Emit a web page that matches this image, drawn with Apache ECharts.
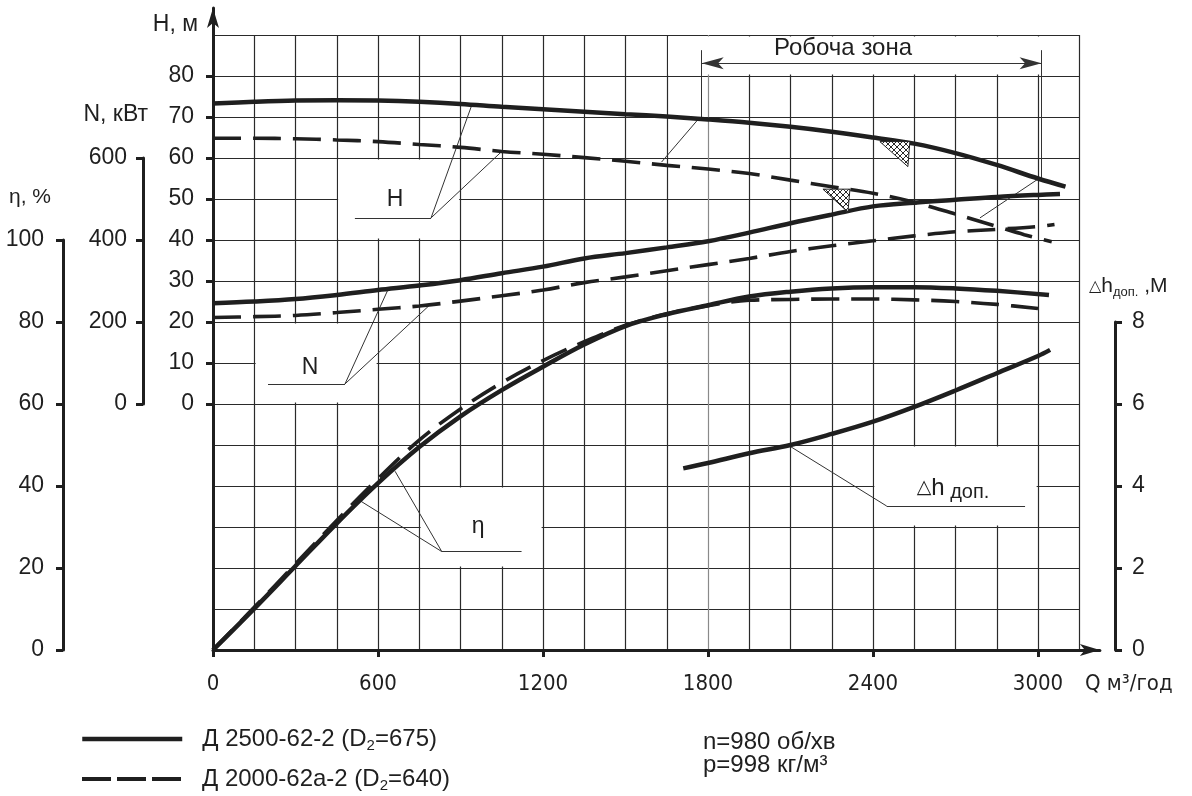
<!DOCTYPE html>
<html><head><meta charset="utf-8">
<script src="https://cdn.jsdelivr.net/npm/echarts@6/dist/echarts.min.js"></script>
<style>html,body{margin:0;padding:0;background:#fff}#c{width:1192px;height:796px}</style>
</head><body><div id="c"></div>
<script>
// ---------- data ----------
const P1 = 'Д 2500-62-2 (D2=675)';
const P2 = 'Д 2000-62а-2 (D2=640)';

// Head H, m
const qH1 = [0,150,300,450,600,750,900,1050,1200,1350,1500,1650,1800,1950,2100,2250,2400,2550,2700,2850,3000,3100];
const h1  = [73.3,73.7,74.0,74.1,74.0,73.7,73.2,72.5,71.9,71.3,70.7,70.1,69.4,68.6,67.6,66.4,65.0,63.5,61.2,58.3,55.0,53.0];
const qH2 = [0,150,300,450,600,750,900,1050,1200,1350,1500,1650,1800,1950,2100,2250,2400,2550,2700,2850,2950,3050];
const h2  = [64.8,64.8,64.7,64.4,64.0,63.3,62.6,61.6,60.9,60.1,59.2,58.2,57.3,56.2,54.6,53.0,51.4,49.2,46.3,43.3,41.3,39.6];

// Power N, kW
const qN1 = [0,150,300,450,600,750,900,1050,1200,1350,1500,1650,1800,1950,2100,2250,2400,2550,2700,2850,3000,3080];
const n1  = [246,250,256,266,278,289,302,319,335,355,368,382,397,418,441,462,482,491,498,505,510,512];
const qN2 = [0,150,300,450,600,750,900,1050,1200,1350,1500,1650,1800,1950,2100,2250,2400,2550,2700,2850,3000,3060];
const n2  = [211,213,216,223,231,239,251,264,278,296,310,325,340,355,372,386,398,410,420,426,433,438];

// Efficiency η, %
const qE1 = [0,150,300,450,600,750,900,1050,1200,1350,1500,1650,1800,1950,2100,2250,2400,2550,2700,2850,3040];
const e1  = [0,10.1,20.5,30.9,40.7,49.5,57.0,63.4,69.1,74.5,79.0,81.9,84.1,86.2,87.4,88.2,88.5,88.5,88.2,87.6,86.6];
const qE2 = [0,150,300,450,600,750,900,1050,1200,1350,1500,1650,1800,1950,2100,2250,2400,2550,2700,2850,3000];
const e2  = [0,10.4,21.0,31.6,41.8,51.2,58.8,65.2,70.6,75.2,79.2,82.0,84.0,85.3,85.5,85.6,85.6,85.4,85.0,84.3,83.3];

// Permissible cavitation reserve Δh, m
const qD = [1710,1800,1950,2100,2250,2400,2550,2700,2850,3000,3044];
const dh = [4.43,4.56,4.80,5.00,5.27,5.57,5.93,6.33,6.75,7.17,7.32];

// tick labels
const qTicks = [0,600,1200,1800,2400,3000];
const hTicks = [0,10,20,30,40,50,60,70,80];

// annotations (in Q / H-scale units of the main plot)
const blankCells = [[[450,40],[900,60]],[[150,0],[600,20]],[[750,-40],[1200,-20]],[[2400,-30],[3000,-10]],[[1650,80],[3150,90]]];
const leaders = [
  [[516,45.4],[793,45.4]],[[793,45.4],[941,72.9]],[[793,45.4],[1050,61.6]],
  [[200,4.9],[480,4.9]],[[480,4.9],[637,28.0]],[[480,4.9],[789,24.2]],
  [[832,-36],[1122,-36]],[[832,-36],[535,-23.6]],[[832,-36],[662,-16.4]],
  [[2450,-24.9],[2953,-24.9]],[[2450,-24.9],[2098,-10.3]],
  [[1777,86.3],[1777,69.6]],[[3013,86.3],[3013,54.7]],
  [[1765,69.5],[1631,59.0]],[[3001,54.9],[2789,45.4]]
];
const zoneArrow = [[1777,83.1],[3013,83.1]];
const labelPts = [
  {name:'H', coord:[662,49.8]},
  {name:'N', coord:[353,8.8]},
  {name:'η', coord:[964,-30.0]},
  {name:'dh', coord:[2691,-20.5]},
  {name:'Робоча зона', coord:[2291,86.7]}
];
const hatchAnchors = [[2425,64.0],[2218,52.4]];

// ---------- layout ----------
const PXQ = 0.275, PXH = 4.1, X0 = 213, Y0 = 650;
const INK = '#1f1f1f';
const FONT = "'Liberation Sans', Arial, sans-serif";
const NARROW = "'Liberation Sans Narrow', 'DejaVu Sans Condensed', 'Liberation Sans', sans-serif";
const TRI_SHAPES = [[[0,0],[30,0],[28,25]], [[0,0],[27,0],[25,23]]];

const pts = (xs, ys) => xs.map((x, i) => [x, ys[i]]);

function hatchPattern() {
  const n = 6;
  const c = document.createElement('canvas');
  c.width = n; c.height = n;
  const g = c.getContext('2d');
  g.fillStyle = '#fff'; g.fillRect(0, 0, n, n);
  g.strokeStyle = '#2a2a2a'; g.lineWidth = 1;
  g.beginPath(); g.moveTo(0, 0); g.lineTo(n, n); g.moveTo(n, 0); g.lineTo(0, n); g.stroke();
  return c;
}
const HATCH = {image: hatchPattern(), repeat: 'repeat'};

const xSplitColors = [];
for (let q = 0; q <= 3150; q += 150) xSplitColors.push(q === 1800 ? '#8a8a8a' : '#2a2a2a');

const hiddenX = i => ({gridIndex: i, type: 'value', min: 0, max: 1, show: false});
const dispAxisLine = {show: true, onZero: false, lineStyle: {color: INK, width: 3}};
const tickStyle = {show: true, length: 7, lineStyle: {color: INK, width: 3}};
const lblStyle = {color: INK, fontSize: 23, fontFamily: FONT};

const solid = {color: INK, width: 4.5};
const dashed = {color: INK, width: 3.6, type: [28, 12]};
const lineS = (name, y, data, ls, z) => ({
  name, type: 'line', xAxisIndex: 0, yAxisIndex: y, data, smooth: 0.35,
  symbol: 'none', showSymbol: false, lineStyle: ls, itemStyle: {color: INK}, z: z || 5, silent: true
});

const legendFmt = name => {
  const i = name.indexOf('D2');
  return '{g|}{t|' + name.slice(0, i + 1) + '}{s|2}{t|' + name.slice(i + 2) + '}';
};
const legendBox = (name, top, ls) => ({
  left: 80, top, padding: 0, itemWidth: 100, itemHeight: 14, selectedMode: false,
  formatter: legendFmt,
  data: [{name, itemStyle: {color: 'rgba(0,0,0,0)', borderWidth: 0, opacity: 0}, lineStyle: ls}],
  textStyle: {color: INK, fontSize: 24, fontFamily: FONT,
    rich: {g: {width: 15},
           t: {fontSize: 24, fontFamily: FONT, color: INK, lineHeight: 28},
           s: {fontSize: 15, fontFamily: FONT, color: INK, verticalAlign: 'bottom', lineHeight: 24}}}
});

const option = {
  animation: false,
  backgroundColor: '#fff',
  grid: [
    {left: X0, top: Y0 - 150 * PXH, width: 3150 * PXQ, height: 150 * PXH, containLabel: false, outerBoundsMode: 'none'},
    {left: X0, top: Y0 - 150 * PXH, width: 3225 * PXQ, height: 150 * PXH, containLabel: false, outerBoundsMode: 'none'},
    {left: X0, top: Y0 - 156.6 * PXH, width: 10, height: 156.6 * PXH, containLabel: false, outerBoundsMode: 'none'},
    {left: 143, top: Y0 - 120 * PXH, width: 10, height: 60 * PXH, containLabel: false, outerBoundsMode: 'none'},
    {left: 63, top: Y0 - 100 * PXH, width: 10, height: 100 * PXH, containLabel: false, outerBoundsMode: 'none'},
    {left: 1105, top: Y0 - 80 * PXH, width: 10, height: 80 * PXH, containLabel: false, outerBoundsMode: 'none'}
  ],
  xAxis: [
    {gridIndex: 0, type: 'value', min: 0, max: 3150, interval: 150,
     axisLine: {show: false}, axisTick: {show: false}, axisLabel: {show: false},
     splitLine: {show: true, lineStyle: {color: xSplitColors, width: 1.2}}},
    {gridIndex: 1, type: 'value', min: 0, max: 3225, interval: 600,
     axisLine: Object.assign({}, dispAxisLine, {symbol: ['none', 'arrow'], symbolSize: [9, 20]}),
     axisTick: Object.assign({}, tickStyle, {customValues: qTicks}),
     axisLabel: {customValues: qTicks, color: INK, fontSize: 22, fontFamily: NARROW, margin: 23,
                 formatter: v => String(v)},
     splitLine: {show: false}},
    hiddenX(2), hiddenX(3), hiddenX(4), hiddenX(5)
  ],
  yAxis: [
    {gridIndex: 0, type: 'value', min: -60, max: 90, interval: 10,
     axisLine: {show: false}, axisTick: {show: false}, axisLabel: {show: false},
     splitLine: {show: true, lineStyle: {color: '#2a2a2a', width: 1.2}}},
    {gridIndex: 0, type: 'value', min: -600, max: 900, show: false},
    {gridIndex: 0, type: 'value', min: 0, max: 150, show: false},
    {gridIndex: 0, type: 'value', min: 0, max: 15, show: false},
    {gridIndex: 1, type: 'value', min: 0, max: 1, show: false},
    {gridIndex: 2, type: 'value', min: -60, max: 96.6, interval: 10,
     axisLine: Object.assign({}, dispAxisLine, {symbol: ['none', 'arrow'], symbolSize: [9, 20]}),
     axisTick: Object.assign({}, tickStyle, {customValues: hTicks}),
     axisLabel: Object.assign({customValues: hTicks, margin: 19}, lblStyle),
     splitLine: {show: false}},
    {gridIndex: 3, type: 'value', min: 0, max: 600, interval: 200,
     axisLine: dispAxisLine, axisTick: tickStyle,
     axisLabel: Object.assign({margin: 16}, lblStyle), splitLine: {show: false}},
    {gridIndex: 4, type: 'value', min: 0, max: 100, interval: 20,
     axisLine: dispAxisLine, axisTick: tickStyle,
     axisLabel: Object.assign({margin: 19}, lblStyle), splitLine: {show: false}},
    {gridIndex: 5, type: 'value', position: 'right', min: 0, max: 8, interval: 2,
     axisLine: dispAxisLine, axisTick: tickStyle,
     axisLabel: Object.assign({margin: 17}, lblStyle), splitLine: {show: false}}
  ],
  legend: [
    legendBox(P1, 727, {color: INK, width: 4.5, type: 'solid'}),
    legendBox(P2, 767, {color: INK, width: 4, type: [29, 6]})
  ],
  series: [
    // white label cells
    {name: 'cells', type: 'line', xAxisIndex: 0, yAxisIndex: 0, data: [], z: 1, silent: true,
     markArea: {silent: true, itemStyle: {color: '#fff'},
       data: blankCells.map(b => [{coord: [b[0][0] + 5, b[0][1] + 0.35]}, {coord: [b[1][0] - 5, b[1][1] - 0.35]}])}},
    lineS(P1, 0, pts(qH1, h1), solid),
    lineS(P2, 0, pts(qH2, h2), dashed),
    lineS(P1, 1, pts(qN1, n1), solid),
    lineS(P2, 1, pts(qN2, n2), dashed),
    lineS(P1, 2, pts(qE1, e1), solid),
    lineS(P2, 2, pts(qE2, e2), dashed),
    lineS(P1, 3, pts(qD, dh), solid),
    // hatched marks on the H curves
    {name: 'hatch', type: 'custom', coordinateSystem: 'cartesian2d', xAxisIndex: 0, yAxisIndex: 0,
     data: hatchAnchors, z: 6, silent: true,
     renderItem: (params, api) => {
       const p = api.coord([api.value(0), api.value(1)]);
       const shp = TRI_SHAPES[params.dataIndex];
       return {type: 'polygon', shape: {points: shp.map(v => [p[0] + v[0], p[1] + v[1]])},
               style: {fill: HATCH, stroke: '#222', lineWidth: 1}};
     }},
    // leaders, working-zone bracket, labels
    {name: 'notes', type: 'line', xAxisIndex: 0, yAxisIndex: 0, data: [], z: 4, silent: true,
     markLine: {silent: true, symbol: ['none', 'none'], label: {show: false},
       lineStyle: {color: '#333', width: 1, type: 'solid'},
       data: leaders.map(s => [{coord: s[0]}, {coord: s[1]}]).concat([[
         {coord: zoneArrow[0], symbol: 'arrow', symbolSize: [9, 22]},
         {coord: zoneArrow[1], symbol: 'arrow', symbolSize: [9, 22]}
       ]])},
     markPoint: {silent: true,
       data: labelPts.map(p => ({
         name: p.name, coord: p.coord, symbol: 'circle', symbolSize: 1,
         itemStyle: {color: 'rgba(0,0,0,0)'},
         label: {show: true, position: 'inside', color: INK, fontFamily: FONT,
           fontSize: p.name === 'Робоча зона' ? 24 : 23,
           formatter: p.name === 'dh' ? '{d|△}{h|h}{s| доп.}' : '{b}',
           rich: {d: {fontSize: 19, color: INK, fontFamily: "'DejaVu Sans', sans-serif"},
                  h: {fontSize: 24, color: INK, fontFamily: FONT},
                  s: {fontSize: 20, color: INK, fontFamily: FONT, verticalAlign: 'bottom', lineHeight: 28}}}
       }))}}
  ],
  graphic: [
    {type: 'text', right: 1192 - 198, top: 13, style: {text: 'H, м', fontSize: 23, fontFamily: FONT, fill: INK}},
    {type: 'text', right: 1192 - 148, top: 103, style: {text: 'N, кВт', fontSize: 23, fontFamily: FONT, fill: INK}},
    {type: 'text', left: 9, top: 187, style: {text: 'η, %', fontSize: 21, fontFamily: FONT, fill: INK}},
    {type: 'text', left: 1089, top: 276, style: {
      text: '{d|△}{h|h}{s|доп.}{h| ,М}', fill: INK,
      rich: {d: {fontSize: 16, fontFamily: "'DejaVu Sans', sans-serif", fill: INK},
             h: {fontSize: 21, fontFamily: FONT, fill: INK},
             s: {fontSize: 13, fontFamily: FONT, fill: INK, verticalAlign: 'bottom', lineHeight: 24}}}},
    {type: 'text', left: 1085, top: 673, style: {text: 'Q м³/год', fontSize: 22, fontFamily: NARROW, fill: INK}},
    {type: 'text', left: 703, top: 730, style: {text: 'n=980 об/хв\np=998 кг/м³', fontSize: 24, lineHeight: 23, fontFamily: FONT, fill: INK}}
  ]
};

const chart = echarts.init(document.getElementById('c'), null, {renderer: 'canvas'});
chart.setOption(option);
</script></body></html>
